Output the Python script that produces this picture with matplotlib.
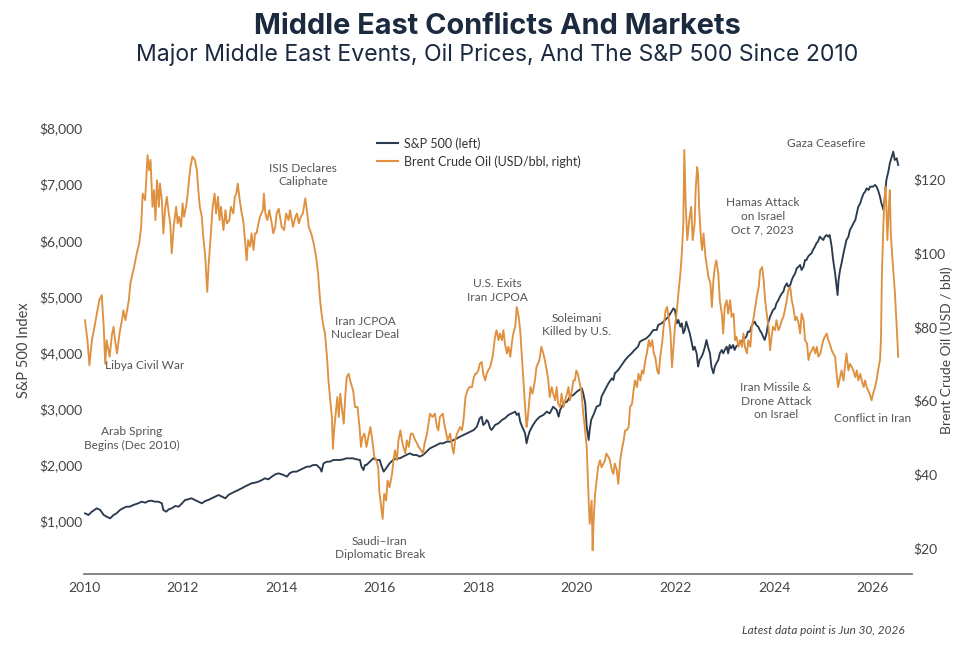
import matplotlib
matplotlib.use("Agg")
import matplotlib.pyplot as plt
from matplotlib.lines import Line2D

plt.rcParams['font.family'] = ['Lato', 'DejaVu Sans']

# ---------------- data ----------------
sp_years = [
    2010.02, 2010.09, 2010.16, 2010.26, 2010.33, 2010.40, 2010.46, 2010.53, 2010.60, 2010.66,
    2010.73, 2010.79, 2010.86, 2010.93, 2011.00, 2011.10, 2011.17, 2011.24, 2011.31, 2011.37,
    2011.44, 2011.51, 2011.58, 2011.61, 2011.67, 2011.72, 2011.78, 2011.85, 2011.92, 2011.99,
    2012.05, 2012.11, 2012.18, 2012.25, 2012.32, 2012.39, 2012.46, 2012.52, 2012.59, 2012.66,
    2012.73, 2012.80, 2012.87, 2012.93, 2012.99, 2013.06, 2013.13, 2013.20, 2013.26, 2013.33,
    2013.40, 2013.47, 2013.54, 2013.61, 2013.67, 2013.74, 2013.81, 2013.88, 2013.95,
    2014.05, 2014.12, 2014.17, 2014.24, 2014.31, 2014.38, 2014.45, 2014.52, 2014.58, 2014.65,
    2014.72, 2014.79, 2014.82, 2014.86, 2014.93, 2014.99, 2015.06, 2015.12, 2015.19, 2015.26,
    2015.32, 2015.39, 2015.46, 2015.53, 2015.60, 2015.63, 2015.67, 2015.70, 2015.73, 2015.80,
    2015.87, 2015.94, 2016.00, 2016.03, 2016.08, 2016.13, 2016.20, 2016.27, 2016.34, 2016.41,
    2016.47, 2016.54, 2016.61, 2016.68, 2016.75, 2016.81, 2016.88, 2016.95, 2017.02, 2017.09,
    2017.16, 2017.22, 2017.29, 2017.36, 2017.43, 2017.50, 2017.57, 2017.63, 2017.70, 2017.77,
    2017.84, 2017.91, 2017.97, 2018.03, 2018.07, 2018.10, 2018.14, 2018.17,
    2018.20, 2018.24, 2018.27, 2018.34, 2018.41, 2018.48, 2018.54, 2018.61, 2018.68, 2018.75,
    2018.78, 2018.82, 2018.85, 2018.89, 2018.92, 2018.95, 2018.98, 2019.01, 2019.04, 2019.11,
    2019.18, 2019.25, 2019.32, 2019.39, 2019.45, 2019.52, 2019.59, 2019.63, 2019.66, 2019.73,
    2019.80, 2019.86, 2019.93, 2020.00, 2020.07, 2020.10, 2020.13, 2020.17, 2020.20, 2020.24,
    2020.26, 2020.29, 2020.32, 2020.35, 2020.40, 2020.47, 2020.50, 2020.57, 2020.64, 2020.71,
    2020.74, 2020.77, 2020.84, 2020.91, 2020.98, 2021.04, 2021.11, 2021.17, 2021.24, 2021.28,
    2021.34, 2021.41, 2021.48, 2021.55, 2021.62, 2021.65, 2021.72, 2021.79, 2021.86, 2021.92,
    2021.96, 2021.99, 2022.03, 2022.06, 2022.10, 2022.13, 2022.16,
    2022.19, 2022.22, 2022.25, 2022.29, 2022.32, 2022.36, 2022.39, 2022.43, 2022.46, 2022.49,
    2022.53, 2022.56, 2022.60, 2022.63, 2022.66, 2022.70, 2022.73, 2022.77, 2022.80, 2022.83,
    2022.87, 2022.90, 2022.94, 2022.97, 2023.00, 2023.04, 2023.07, 2023.10, 2023.13, 2023.17,
    2023.20, 2023.23, 2023.30, 2023.37, 2023.44, 2023.47, 2023.51, 2023.54, 2023.58, 2023.61,
    2023.64, 2023.68, 2023.71, 2023.75, 2023.78, 2023.81, 2023.85, 2023.88, 2023.92, 2023.95,
    2023.98, 2024.02, 2024.05, 2024.09, 2024.12, 2024.16, 2024.19, 2024.22, 2024.26, 2024.29,
    2024.33, 2024.36, 2024.39, 2024.43, 2024.46, 2024.50, 2024.53, 2024.56, 2024.60, 2024.63,
    2024.66, 2024.69, 2024.72, 2024.76, 2024.79, 2024.83, 2024.86, 2024.89, 2024.93, 2024.96,
    2025.00, 2025.03, 2025.07, 2025.10, 2025.13, 2025.17, 2025.20, 2025.24, 2025.27, 2025.29,
    2025.31, 2025.34, 2025.37, 2025.41, 2025.44, 2025.47, 2025.51, 2025.54, 2025.58, 2025.61,
    2025.65, 2025.68, 2025.71, 2025.75, 2025.78, 2025.82, 2025.85, 2025.88, 2025.92, 2025.95,
    2025.98, 2026.01, 2026.05, 2026.08, 2026.11, 2026.15, 2026.18, 2026.22, 2026.25, 2026.28,
    2026.32, 2026.35, 2026.39, 2026.42, 2026.45, 2026.49, 2026.52,
]
sp_values = [
    1136, 1107, 1166, 1226, 1196, 1107, 1077, 1047, 1107, 1136,
    1196, 1226, 1255, 1255, 1285, 1315, 1344, 1326, 1356, 1362,
    1344, 1344, 1315, 1196, 1166, 1208, 1226, 1267, 1255, 1315,
    1374, 1386, 1404, 1374, 1344, 1315, 1356, 1374, 1404, 1433,
    1463, 1433, 1404, 1463, 1493, 1522, 1552, 1582, 1612, 1641,
    1671, 1683, 1701, 1730, 1760, 1742, 1790, 1831, 1849,
    1819, 1790, 1849, 1879, 1879, 1908, 1938, 1968, 1968, 1997,
    1997, 1938, 1879, 2027, 2057, 2057, 2087, 2087, 2087, 2098,
    2116, 2116, 2116, 2098, 2087, 1968, 1908, 1997, 1997, 2057,
    2116, 2087, 2087, 1997, 1879, 1938, 2027, 2087, 2116, 2116,
    2146, 2176, 2205, 2176, 2176, 2146, 2176, 2235, 2294, 2324,
    2354, 2383, 2383, 2413, 2413, 2443, 2472, 2502, 2532, 2561,
    2591, 2621, 2680, 2829, 2858, 2710, 2740, 2799,
    2769, 2650, 2621, 2710, 2740, 2799, 2829, 2888, 2918, 2947,
    2888, 2918, 2769, 2680, 2621, 2561, 2383, 2502, 2591, 2710,
    2799, 2858, 2888, 2947, 2918, 3036, 2977, 2858, 2977, 3096,
    3125, 3214, 3244, 3304, 3345, 3363, 3274, 3096, 2680, 2443,
    2621, 2799, 2858, 2918, 3036, 3066, 3214, 3333, 3452, 3541,
    3511, 3630, 3690, 3779, 3868, 3927, 3986, 4046, 4105, 4194,
    4224, 4254, 4313, 4402, 4402, 4491, 4521, 4580, 4639, 4728,
    4788, 4758, 4521, 4580, 4461, 4521, 4343,
    4402, 4550, 4461, 4343, 4224, 4046, 4105, 3986, 3749, 3868,
    3927, 3986, 4105, 4224, 4105, 3986, 3749, 3630, 3749, 3808,
    3868, 3986, 4046, 3986, 4046, 4105, 3986, 4135, 4075, 4135,
    4046, 4105, 4164, 4224, 4283, 4372, 4372, 4461, 4521, 4550,
    4491, 4461, 4402, 4343, 4283, 4224, 4343, 4521, 4639, 4699,
    4758, 4788, 4877, 4936, 4996, 5055, 5085, 5174, 5233, 5174,
    5203, 5292, 5352, 5411, 5500, 5530, 5560, 5471, 5530, 5649,
    5649, 5708, 5738, 5767, 5827, 5886, 5946, 5975, 6064, 6035,
    6005, 6064, 6094, 6064, 6094, 5886, 5649, 5411, 5174, 5025,
    5292, 5471, 5589, 5767, 5886, 6005, 6064, 6183, 6243, 6302,
    6361, 6480, 6599, 6658, 6747, 6836, 6866, 6925, 6895, 6955,
    6955, 6955, 6985, 6955, 6895, 6777, 6658, 6539, 6777, 7074,
    7222, 7370, 7489, 7578, 7430, 7460, 7341,
]

oil_years = [
    2010.02, 2010.07, 2010.11, 2010.16, 2010.20, 2010.26, 2010.31, 2010.36, 2010.40, 2010.43,
    2010.46, 2010.52, 2010.57, 2010.60, 2010.63, 2010.67, 2010.72, 2010.77, 2010.80, 2010.84,
    2010.91, 2010.94, 2011.00, 2011.03, 2011.07, 2011.12, 2011.16, 2011.19, 2011.24, 2011.27,
    2011.29, 2011.32, 2011.35, 2011.39, 2011.42, 2011.45, 2011.48, 2011.52, 2011.54, 2011.58,
    2011.61, 2011.65, 2011.68, 2011.72, 2011.75, 2011.78, 2011.82, 2011.87, 2011.90, 2011.93,
    2011.97, 2012.00, 2012.03, 2012.07, 2012.09, 2012.13, 2012.16, 2012.20, 2012.25, 2012.29,
    2012.32, 2012.35, 2012.39, 2012.42, 2012.46, 2012.48, 2012.50, 2012.53, 2012.57, 2012.61,
    2012.65, 2012.68, 2012.72, 2012.75, 2012.78, 2012.83, 2012.87, 2012.90, 2012.95, 2012.98,
    2013.03, 2013.06, 2013.09, 2013.12, 2013.16, 2013.20, 2013.23, 2013.26, 2013.30, 2013.33,
    2013.37, 2013.40, 2013.44, 2013.47, 2013.50, 2013.54, 2013.57, 2013.63, 2013.65, 2013.68,
    2013.72, 2013.76, 2013.81, 2013.84, 2013.88, 2013.91, 2013.95,
    2014.01, 2014.06, 2014.10, 2014.15, 2014.18, 2014.24, 2014.29, 2014.32, 2014.36, 2014.40,
    2014.44, 2014.49, 2014.53, 2014.56, 2014.61, 2014.66, 2014.71, 2014.75, 2014.79, 2014.82,
    2014.86, 2014.89, 2014.93, 2014.96, 2014.99, 2015.03, 2015.05, 2015.08, 2015.12, 2015.14,
    2015.17, 2015.20, 2015.23, 2015.27, 2015.30, 2015.33, 2015.37, 2015.40, 2015.46, 2015.50,
    2015.55, 2015.59, 2015.62, 2015.65, 2015.69, 2015.73, 2015.77, 2015.81, 2015.85, 2015.89,
    2015.93, 2015.97, 2015.99, 2016.03, 2016.06, 2016.09, 2016.13, 2016.16, 2016.20, 2016.25,
    2016.28, 2016.31, 2016.35, 2016.38, 2016.42, 2016.45, 2016.48, 2016.52, 2016.55, 2016.59,
    2016.63, 2016.67, 2016.72, 2016.76, 2016.79, 2016.84, 2016.88, 2016.91, 2016.96, 2016.99,
    2017.02, 2017.07, 2017.12, 2017.16, 2017.19, 2017.22, 2017.28, 2017.31, 2017.35, 2017.38,
    2017.43, 2017.47, 2017.50, 2017.53, 2017.57, 2017.60, 2017.63, 2017.67, 2017.70, 2017.74,
    2017.78, 2017.82, 2017.87, 2017.91, 2017.94, 2017.96, 2018.00, 2018.03, 2018.07, 2018.10,
    2018.14, 2018.17,
    2018.20, 2018.24, 2018.29, 2018.34, 2018.37, 2018.41, 2018.44, 2018.48, 2018.51, 2018.54,
    2018.58, 2018.61, 2018.65, 2018.68, 2018.71, 2018.75, 2018.78, 2018.82, 2018.85, 2018.89,
    2018.92, 2018.95, 2018.98, 2019.00, 2019.03, 2019.06, 2019.10, 2019.15, 2019.18, 2019.24,
    2019.28, 2019.32, 2019.35, 2019.39, 2019.42, 2019.45, 2019.49, 2019.52, 2019.56, 2019.59,
    2019.62, 2019.66, 2019.69, 2019.73, 2019.76, 2019.80, 2019.83, 2019.86, 2019.90, 2019.93,
    2019.96, 2019.99, 2020.02, 2020.06, 2020.09, 2020.13, 2020.16, 2020.20, 2020.22, 2020.24,
    2020.26, 2020.30, 2020.32, 2020.34, 2020.37, 2020.40, 2020.43, 2020.47, 2020.50, 2020.54,
    2020.57, 2020.60, 2020.64, 2020.67, 2020.71, 2020.74, 2020.77, 2020.81, 2020.84, 2020.88,
    2020.91, 2020.95, 2020.98, 2021.01, 2021.05, 2021.08, 2021.12, 2021.15, 2021.18, 2021.22,
    2021.25, 2021.29, 2021.32, 2021.35, 2021.39, 2021.42, 2021.46, 2021.49, 2021.53, 2021.56,
    2021.59, 2021.63, 2021.66, 2021.70, 2021.73, 2021.76, 2021.80, 2021.83, 2021.87, 2021.90,
    2021.93, 2021.96, 2021.99, 2022.03, 2022.06, 2022.10, 2022.13, 2022.16, 2022.18,
    2022.21, 2022.24, 2022.28, 2022.32, 2022.35, 2022.39, 2022.41, 2022.44, 2022.46, 2022.48,
    2022.52, 2022.54, 2022.57, 2022.61, 2022.64, 2022.67, 2022.71, 2022.74, 2022.77, 2022.80,
    2022.83, 2022.87, 2022.90, 2022.94, 2022.97, 2023.00, 2023.04, 2023.07, 2023.11, 2023.14,
    2023.18, 2023.21, 2023.24, 2023.28, 2023.31, 2023.35, 2023.38, 2023.41, 2023.45, 2023.48,
    2023.52, 2023.55, 2023.59, 2023.62, 2023.65, 2023.69, 2023.72, 2023.76, 2023.79, 2023.82,
    2023.86, 2023.89, 2023.92, 2023.95, 2023.98, 2024.02, 2024.05, 2024.09, 2024.12, 2024.16,
    2024.19, 2024.22, 2024.26, 2024.29, 2024.33, 2024.36, 2024.39, 2024.43, 2024.46, 2024.50,
    2024.53, 2024.56, 2024.60, 2024.63, 2024.67, 2024.70, 2024.73, 2024.77, 2024.80, 2024.84,
    2024.87, 2024.90, 2024.94, 2024.97, 2025.00, 2025.03, 2025.07, 2025.10, 2025.13, 2025.17,
    2025.20, 2025.24, 2025.27, 2025.30, 2025.34, 2025.37, 2025.41, 2025.44, 2025.47, 2025.51,
    2025.54, 2025.58, 2025.61, 2025.65, 2025.68, 2025.71, 2025.75, 2025.78, 2025.82, 2025.85,
    2025.88, 2025.91, 2025.94, 2025.98, 2026.01, 2026.05, 2026.08, 2026.11, 2026.15, 2026.17,
    2026.19, 2026.22, 2026.24, 2026.26, 2026.28, 2026.30, 2026.33, 2026.35, 2026.37, 2026.40,
    2026.42, 2026.45, 2026.49, 2026.52,
]
oil_values = [
    81.8, 76.4, 69.6, 76.4, 79.1, 83.6, 87.2, 88.6, 80.0, 70.0,
    76.4, 71.9, 78.2, 80.0, 76.4, 72.8, 78.2, 81.8, 84.5, 81.8,
    87.2, 91.7, 95.3, 97.1, 99.9, 102.6, 107.1, 116.1, 114.3, 121.5,
    126.5, 122.4, 125.2, 112.5, 117.0, 108.9, 119.7, 112.5, 118.8, 114.3,
    105.3, 112.5, 115.2, 110.7, 108.0, 99.9, 107.1, 112.5, 108.0, 109.8,
    107.1, 113.4, 109.8, 112.5, 114.3, 119.7, 123.3, 126.1, 125.2, 122.4,
    117.0, 112.5, 109.8, 104.4, 98.9, 94.4, 89.5, 97.1, 104.4, 112.5,
    116.1, 110.7, 115.2, 108.9, 112.5, 106.2, 111.6, 108.0, 108.9, 112.5,
    110.7, 115.2, 116.1, 118.8, 114.3, 110.7, 108.9, 104.4, 98.0, 103.5,
    101.7, 105.3, 100.8, 105.3, 105.3, 108.0, 109.8, 111.6, 116.1, 110.7,
    108.9, 111.6, 108.0, 105.3, 107.1, 110.7, 112.0,
    107.1, 106.2, 110.7, 108.9, 111.6, 107.1, 109.8, 110.7, 108.0, 109.8,
    110.7, 114.8, 110.7, 107.1, 105.3, 102.6, 98.9, 94.4, 87.2, 83.6,
    80.0, 78.2, 71.9, 65.5, 61.0, 55.6, 47.0, 52.9, 58.3, 61.0,
    55.6, 61.9, 58.3, 53.8, 61.0, 66.4, 67.3, 65.5, 62.8, 58.3,
    58.3, 52.9, 47.5, 50.2, 51.1, 47.5, 50.2, 52.9, 49.3, 44.8,
    43.9, 42.0, 35.7, 31.2, 28.0, 34.8, 33.0, 38.4, 36.6, 40.2,
    43.9, 46.6, 43.9, 49.3, 52.0, 49.3, 47.5, 45.7, 49.3, 47.5,
    51.1, 51.1, 49.3, 48.4, 47.5, 46.6, 45.7, 48.4, 51.1, 53.8,
    56.5, 55.6, 56.5, 52.9, 52.0, 55.6, 56.5, 53.8, 51.1, 49.3,
    51.1, 47.5, 45.7, 49.3, 51.1, 52.0, 52.9, 52.0, 54.7, 61.0,
    62.8, 63.7, 63.7, 66.4, 67.3, 67.3, 68.2, 70.0, 70.5, 67.3,
    65.5, 67.3,
    68.2, 69.1, 71.9, 77.3, 79.1, 76.4, 78.2, 76.4, 79.1, 75.5,
    72.8, 74.6, 71.9, 75.5, 78.2, 80.0, 85.4, 82.7, 79.1, 71.0,
    64.6, 58.3, 52.9, 54.7, 59.2, 63.7, 61.9, 65.5, 69.1, 71.0,
    74.6, 72.8, 71.0, 68.2, 65.5, 61.0, 63.7, 61.9, 60.1, 63.7,
    59.2, 58.3, 61.9, 58.3, 60.1, 61.9, 63.7, 60.1, 62.8, 65.5,
    65.5, 68.2, 67.3, 64.6, 62.8, 56.5, 52.9, 47.5, 40.2, 33.0,
    26.7, 33.0, 19.5, 27.6, 34.8, 38.4, 42.0, 43.9, 42.0, 43.0,
    43.9, 45.7, 44.8, 43.9, 41.2, 40.2, 43.0, 41.2, 37.5, 43.9,
    46.6, 49.3, 52.0, 52.0, 52.9, 58.3, 59.2, 62.8, 65.5, 63.7,
    67.3, 65.5, 68.2, 67.3, 71.0, 72.8, 76.4, 74.6, 76.4, 72.8,
    71.9, 68.2, 67.3, 72.8, 75.5, 80.0, 84.5, 85.4, 81.8, 78.2,
    69.1, 74.6, 80.0, 84.5, 89.0, 94.4, 99.9, 108.0, 127.9,
    112.5, 103.5, 108.9, 112.5, 103.5, 108.0, 117.0, 123.3, 121.5, 112.5,
    103.5, 100.8, 105.3, 98.9, 96.2, 93.5, 91.7, 85.4, 92.6, 96.2,
    98.0, 94.4, 87.2, 83.6, 78.2, 85.4, 87.2, 83.6, 87.2, 82.7,
    83.6, 76.4, 77.3, 74.6, 76.4, 74.6, 78.2, 74.6, 72.8, 76.4,
    74.6, 80.0, 82.7, 85.4, 88.1, 90.8, 95.3, 96.2, 92.6, 87.2,
    82.7, 80.0, 73.7, 77.3, 80.0, 79.1, 81.8, 79.1, 80.0, 81.8,
    82.7, 84.5, 87.2, 89.9, 90.8, 87.2, 85.4, 81.8, 82.7, 80.9,
    78.2, 83.6, 81.8, 76.4, 75.5, 71.0, 72.8, 73.7, 74.6, 72.8,
    74.6, 71.9, 72.8, 74.6, 76.4, 77.3, 78.2, 76.4, 75.5, 73.7,
    72.8, 71.9, 67.3, 63.7, 66.4, 68.2, 65.5, 69.1, 72.8, 68.2,
    70.0, 69.1, 68.2, 66.4, 68.2, 65.5, 67.3, 65.5, 63.7, 65.5,
    63.7, 62.8, 61.9, 60.1, 61.9, 63.7, 65.5, 68.2, 71.0, 76.4,
    94.4, 108.0, 114.3, 117.9, 112.5, 103.5, 112.5, 117.0, 105.3, 98.9,
    95.3, 89.9, 80.0, 71.9,
]

x_tick_years = [2010, 2012, 2014, 2016, 2018, 2020, 2022, 2024, 2026]
sp_ticks = [1000, 2000, 3000, 4000, 5000, 6000, 7000, 8000]
oil_ticks = [20, 40, 60, 80, 100, 120]

event_labels = [
    "ISIS Declares\nCaliphate",
    "Libya Civil War",
    "Arab Spring\nBegins (Dec 2010)",
    "Iran JCPOA\nNuclear Deal",
    "Saudi\u2013Iran\nDiplomatic Break",
    "U.S. Exits\nIran JCPOA",
    "Soleimani\nKilled by U.S.",
    "Hamas Attack\non Israel\nOct 7, 2023",
    "Gaza Ceasefire",
    "Iran Missile &\nDrone Attack\non Israel",
    "Conflict in Iran",
]
# label anchor positions (x in years, y in S&P-axis units) -- layout only
event_pos = [
    (2014.44, 7162), (2011.22, 3778), (2010.97, 2469), (2015.70, 4437),
    (2016.00, 519), (2018.38, 5105), (2020.00, 4491), (2023.77, 6423),
    (2025.06, 7732), (2024.04, 3137), (2026.00, 2817),
]

# ---------------- style ----------------
NAVY = '#2b3b4e'
ORANGE = '#df9140'
TEXT = '#555555'
TICK = '#444444'
TITLE = '#1b2a3f'

W, H = 955, 646
fig = plt.figure(figsize=(W / 100, H / 100), dpi=100)
ax_l, ax_r, ax_b, ax_t = 84, 912, 574, 120
ax = fig.add_axes([ax_l / W, 1 - ax_b / H, (ax_r - ax_l) / W, (ax_b - ax_t) / H])
ax2 = ax.twinx()

ax.plot(sp_years, sp_values, color=NAVY, lw=1.35, solid_joinstyle='round')
ax2.plot(oil_years, oil_values, color=ORANGE, lw=1.35, solid_joinstyle='round')

ax.set_xlim(2010.0, 2026.80)
ax.set_ylim(56, 8142)
ax2.set_ylim(13.1, 136.0)

ax.set_xticks(x_tick_years)
ax.set_xticklabels([str(y) for y in x_tick_years])
ax.set_yticks(sp_ticks)
ax.set_yticklabels(['${:,}'.format(v) for v in sp_ticks])
ax2.set_yticks(oil_ticks)
ax2.set_yticklabels(['${}'.format(v) for v in oil_ticks])

for a in (ax, ax2):
    for s in a.spines.values():
        s.set_visible(False)
ax.spines['bottom'].set_visible(True)
ax.spines['bottom'].set_color('#7a7a7a')
ax.spines['bottom'].set_linewidth(1.3)

ax.tick_params(axis='x', length=0, pad=6, labelsize=10, labelcolor=TICK)
ax.tick_params(axis='y', length=0, pad=1, labelsize=10, labelcolor=TICK)
ax2.tick_params(axis='y', length=0, pad=1, labelsize=10, labelcolor=TICK)

for lab, (xv, yv) in zip(event_labels, event_pos):
    ax.text(xv, yv, lab, ha='center', va='center', fontsize=8.6, color=TEXT,
            linespacing=1.3, clip_on=False, zorder=5)

handles = [Line2D([], [], color=NAVY, lw=1.5), Line2D([], [], color=ORANGE, lw=1.5)]
fig.legend(handles, ["S&P 500 (left)", "Brent Crude Oil (USD/bbl, right)"],
           loc='upper left', bbox_to_anchor=(377 / W, 1 - 137 / H), frameon=False,
           fontsize=9, handlelength=1.7, handletextpad=0.45, borderpad=0,
           borderaxespad=0, labelspacing=0.45, labelcolor='#333333')

fig.text(497 / W, 1 - 26 / H, "Middle East Conflicts And Markets", ha='center', va='center',
         fontsize=20.8, fontweight='bold', color=TITLE, family=['Inter', 'DejaVu Sans'])
fig.text(497 / W, 1 - 55 / H, "Major Middle East Events, Oil Prices, And The S&P 500 Since 2010",
         ha='center', va='center', fontsize=16.6, color=TITLE, family=['Inter', 'DejaVu Sans'])

fig.text(28 / W, 1 - 350 / H, "S&P 500 Index", rotation=90, rotation_mode='anchor',
         ha='center', va='baseline', fontsize=10.5, color=TICK)
fig.text(951 / W, 1 - 350 / H, "Brent Crude Oil (USD / bbl)", rotation=90, rotation_mode='anchor',
         ha='center', va='baseline', fontsize=10, color=TICK)

fig.text(905 / W, 1 - 631 / H, "Latest data point is Jun 30, 2026", ha='right', va='center',
         fontsize=8.5, style='italic', color='#444444')

fig.savefig('out.png', dpi=100)
